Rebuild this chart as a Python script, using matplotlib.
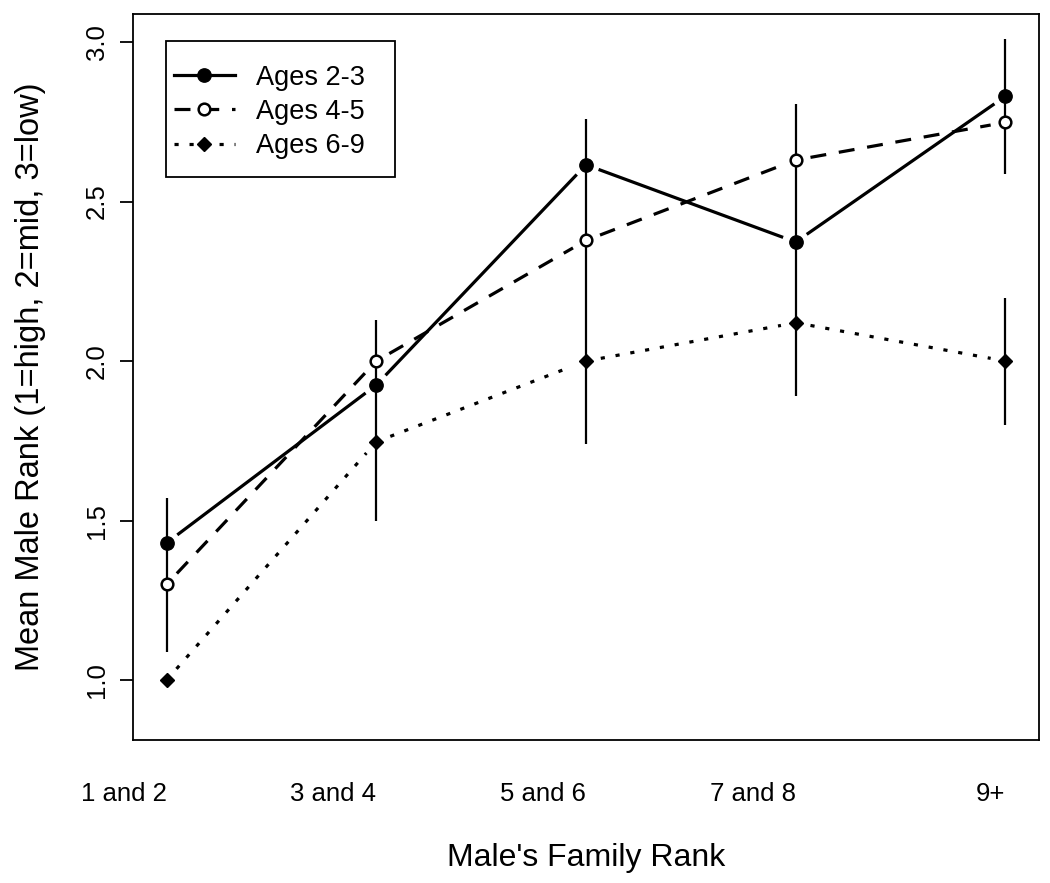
import numpy as np
import matplotlib
matplotlib.use("Agg")
from matplotlib import pyplot as plt
from matplotlib.lines import Line2D
from matplotlib.patches import Rectangle

plt.rcParams["font.family"] = ["Liberation Sans", "DejaVu Sans"]

groups = ["1 and 2", "3 and 4", "5 and 6", "7 and 8", "9+"]
x = np.arange(1, 6)

ages_2_3 = [1.43, 1.925, 2.615, 2.373, 2.83]
ages_4_5 = [1.30, 2.00, 2.378, 2.63, 2.748]
ages_6_9 = [1.00, 1.747, 2.00, 2.12, 2.00]

# vertical error bars (no caps)
err_x = [1, 2, 3, 4, 5, 5]
err_lo = [1.088, 1.50, 1.74, 1.89, 2.585, 1.798]
err_hi = [1.572, 2.13, 2.76, 2.806, 3.01, 2.197]

fig = plt.figure(figsize=(10.5, 8.83), dpi=100)
ax = fig.add_axes([0.1267, 0.162, 0.8628, 0.8221])
ax.set_xlim(0.84, 5.16)
ax.set_ylim(0.8125, 3.0875)


def gapped(xs, ys, gap=15, **kw):
    # R type="b": lines stop short of each point
    pts = ax.transData.transform(np.column_stack([xs, ys]))
    inv = ax.transData.inverted()
    for p, q in zip(pts[:-1], pts[1:]):
        d = q - p
        u = d / np.hypot(*d)
        a = inv.transform(p + u * gap)
        b = inv.transform(q - u * gap)
        ax.plot([a[0], b[0]], [a[1], b[1]], color="black", **kw)


lw = 2.3
dash = (5, 4)
dots = (1.3, 3.4)

ax.vlines(err_x, err_lo, err_hi, color="black", lw=1.6)

gapped(x, ages_2_3, lw=lw, linestyle="-")
gapped(x, ages_4_5, lw=lw, linestyle=(0, dash))
gapped(x, ages_6_9, lw=lw, linestyle=(0, dots))

ax.plot(x, ages_2_3, "o", color="black", ms=9.6, zorder=3)
ax.plot(x, ages_4_5, "o", mfc="white", mec="black", mew=1.8, ms=8.4, zorder=3)
ax.plot(x, ages_6_9, "D", color="black", ms=6.8, zorder=3)

handles = [
    Line2D([], [], color="black", lw=lw, ls="-", marker="o", ms=9.6),
    Line2D([], [], color="black", lw=lw, ls=(0, dash), marker="o", mfc="white", mew=1.8, ms=8.4),
    Line2D([], [], color="black", lw=lw, ls=(0, dots), marker="D", ms=6.8),
]
ax.legend(handles, ["Ages 2-3", "Ages 4-5", "Ages 6-9"], loc="upper left",
          bbox_to_anchor=(0.045, 0.93), borderaxespad=0, borderpad=0,
          frameon=False, fontsize=19.5, handlelength=2.25, handletextpad=0.8,
          labelspacing=0.3)
ax.add_patch(Rectangle((0.0364, 0.7755), 0.2526, 0.1873, transform=ax.transAxes,
                       fill=False, edgecolor="black", lw=1.3, zorder=5))

for s in ax.spines.values():
    s.set_linewidth(1.3)

ax.set_yticks([1.0, 1.5, 2.0, 2.5, 3.0])
ax.set_yticklabels(["1.0", "1.5", "2.0", "2.5", "3.0"], rotation=90, va="center")
ax.tick_params(axis="y", length=9.4, width=1.3, pad=8, labelsize=18.5)
ax.set_xticks(x)
ax.set_xticklabels(groups, ha="right")
ax.tick_params(axis="x", length=0, pad=30, labelsize=18.5)

ax.set_xlabel("Male's Family Rank", fontsize=23, labelpad=27)
ax.set_ylabel("Mean Male Rank (1=high, 2=mid, 3=low)", fontsize=23.5, labelpad=28)

fig.savefig("out.png", dpi=100)
